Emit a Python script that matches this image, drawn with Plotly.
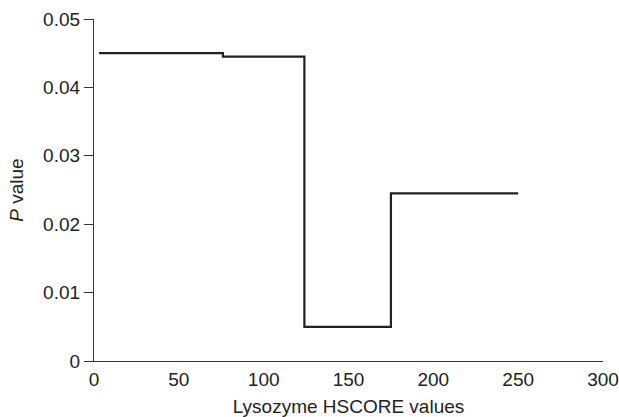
import plotly.graph_objects as go

# Step-change points (HSCORE) and P values
hscore = [3, 76, 124, 175, 250]
p_values = [0.045, 0.0445, 0.005, 0.0245, 0.0245]

x_ticks = [0, 50, 100, 150, 200, 250, 300]
y_ticks = [0, 0.01, 0.02, 0.03, 0.04, 0.05]
y_tick_labels = ["0", "0.01", "0.02", "0.03", "0.04", "0.05"]

font_family = "Liberation Sans, Arial, sans-serif"

fig = go.Figure()
fig.add_trace(go.Scatter(
    x=hscore, y=p_values, mode="lines",
    line=dict(shape="hv", color="#222222", width=2.2),
    showlegend=False, hoverinfo="skip",
))

fig.update_layout(
    width=619, height=417,
    margin=dict(l=94, r=16, t=19, b=56),
    paper_bgcolor="white", plot_bgcolor="white",
    font=dict(family=font_family, size=19, color="#222222"),
    xaxis=dict(
        range=[0, 300], tickvals=x_ticks, ticktext=[str(v) for v in x_ticks],
        showgrid=False, zeroline=False, showline=True, linecolor="#333333",
        linewidth=1.3, ticks="", ticklabelstandoff=1, automargin=False,
        title=dict(text="Lysozyme HSCORE values", standoff=10,
                   font=dict(size=19)),
        tickfont=dict(size=19),
    ),
    yaxis=dict(
        range=[0, 0.05], tickvals=y_ticks, ticktext=y_tick_labels,
        showgrid=False, zeroline=False, showline=True, linecolor="#333333",
        linewidth=1.3, ticks="outside", ticklen=9, tickcolor="#333333",
        tickwidth=1.3, automargin=False,
        title=dict(text="<i>P</i> value", standoff=14, font=dict(size=19)),
        tickfont=dict(size=19),
    ),
)

fig.write_html(
    "out.html",
    config={"displayModeBar": False},
    post_script="document.body.style.margin='0';document.body.style.overflow='hidden';",
)
